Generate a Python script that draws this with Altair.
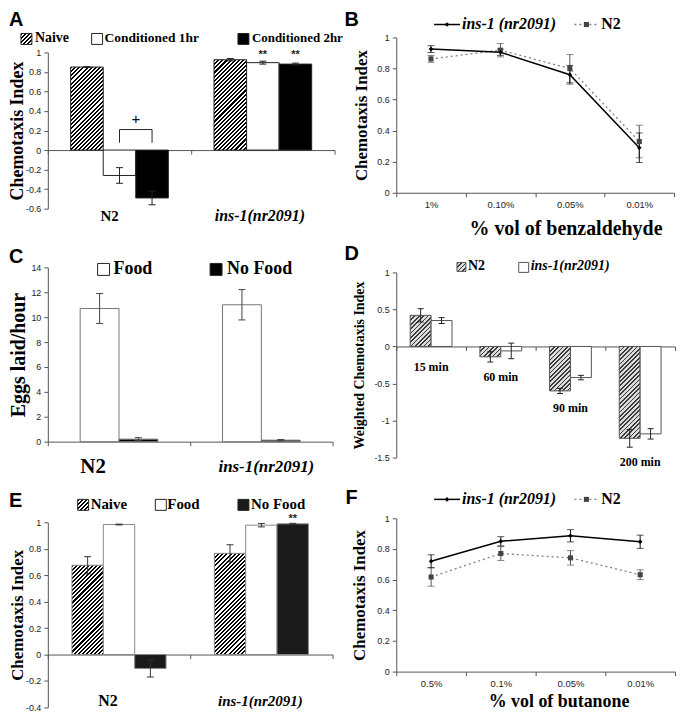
import math
import altair as alt
import pandas as pd

SERIF = "Liberation Serif"
SANS = "Liberation Sans"
AX = "#555555"
LBL = "#222222"

# ---------------- data ----------------
GROUPS = ["N2", "ins-1(nr2091)"]

A_SERIES = ["Naive", "Conditioned 1hr", "Conditioned 2hr"]
A_N2 = [0.85, -0.26, -0.49]
A_N2_ERR = [0.004, 0.08, 0.07]
A_INS = [0.925, 0.895, 0.88]
A_INS_ERR = [0.012, 0.015, 0.01]

B_CONC = ["1%", "0.10%", "0.05%", "0.01%"]
B_INS = [0.925, 0.905, 0.76, 0.29]
B_INS_ERR = [0.022, 0.02, 0.06, 0.095]
B_N2 = [0.862, 0.918, 0.80, 0.33]
B_N2_ERR = [0.022, 0.043, 0.09, 0.105]

C_SERIES = ["Food", "No Food"]
C_N2 = [10.7, 0.2]
C_N2_ERR = [1.2, 0.12]
C_INS = [11.0, 0.12]
C_INS_ERR = [1.22, 0.05]

D_TIMES = ["15 min", "60 min", "90 min", "200 min"]
D_SERIES = ["N2", "ins-1(nr2091)"]
D_N2 = [0.42, -0.14, -0.60, -1.24]
D_N2_ERR = [0.09, 0.07, 0.035, 0.12]
D_INS = [0.35, -0.06, -0.42, -1.18]
D_INS_ERR = [0.04, 0.105, 0.03, 0.07]

E_SERIES = ["Naive", "Food", "No Food"]
E_N2 = [0.675, 0.983, -0.105]
E_N2_ERR = [0.065, 0.003, 0.065]
E_INS = [0.765, 0.978, 0.988]
E_INS_ERR = [0.065, 0.013, 0.004]

F_CONC = ["0.5%", "0.1%", "0.05%", "0.01%"]
F_INS = [0.72, 0.85, 0.886, 0.847]
F_INS_ERR = [0.042, 0.03, 0.04, 0.043]
F_N2 = [0.617, 0.77, 0.742, 0.632]
F_N2_ERR = [0.06, 0.045, 0.047, 0.032]

ONE = pd.DataFrame({"k": [0]})


# ---------------- helpers ----------------
def hatch(w, h, period, c_line, c_bg, frac):
    """45-degree '/' stripes as a hard-stop linear gradient for a w x h box."""
    w = max(w, 1.0)
    h = max(h, 1.0)
    r = w / h
    b = (r + 1) / (r * r + 1)
    a = r * b
    L = (w + h) / math.sqrt(2)
    stops = []
    k = 0
    while k * period < L:
        s = k * period / L
        m = min((k + frac) * period / L, 1.0)
        e = min((k + 1) * period / L, 1.0)
        stops += [(s, c_line), (m, c_line), (m, c_bg), (e, c_bg)]
        k += 1
    return {"gradient": "linear", "x1": 0, "y1": 0, "x2": round(a, 5), "y2": round(b, 5),
            "stops": [{"offset": round(o, 5), "color": c} for o, c in stops]}


def y_axis(ticks, title, tsize, tx, H):
    return alt.Axis(values=ticks, title=title, titleFont=SERIF, titleFontWeight="bold",
                    titleFontSize=tsize, titleColor="black", titleAngle=270, titleAlign="center",
                    titleBaseline="middle", titleX=tx, titleY=H / 2, labelFont=SANS,
                    labelFontSize=9, labelColor=LBL, labelExpr="'' + round(datum.value * 10) / 10",
                    labelPadding=3, tickSize=4, tickColor=AX, domainColor=AX, grid=False)


def swatch(x, y, s, fill, stroke="#222222"):
    return alt.Chart(ONE).mark_rect(fill=fill, stroke=stroke, strokeWidth=1).encode(
        x=alt.value(x), x2=alt.value(x + s), y=alt.value(y), y2=alt.value(y + s))


def label(txt, x, y, size, italic=False, font=SERIF, weight="bold", baseline="middle", align="left"):
    return alt.Chart(ONE).mark_text(text=txt, font=font, fontSize=size, fontWeight=weight,
                                    fontStyle="italic" if italic else "normal", align=align,
                                    baseline=baseline, color="black").encode(
        x=alt.value(x), y=alt.value(y))


def letter(ch, x, y):
    return label(ch, x, y, 20, font=SANS, baseline="top")


def spacer(h):
    return alt.Chart(ONE).mark_point(opacity=0).encode(
        x=alt.value(0), y=alt.value(0)).properties(width=1, height=h)


def bar_panel(groups, series, vals, errs, W, H, dom, ticks, bar_px, fills, hatch_spec, stroke,
              err_color, cap_px, ytitle, ytsize, ytx, on_zero):
    n, m = len(groups), len(series)
    unit = W / n
    bw = bar_px / unit
    ch = cap_px / 2 / unit
    rows = []
    for gi, g in enumerate(groups):
        for sj, s in enumerate(series):
            v, e = vals[gi][sj], errs[gi][sj]
            x0 = gi + 0.5 - m * bw / 2 + sj * bw
            xc = x0 + bw / 2
            rows.append({"grp": g, "ser": s, "x0": x0, "x1": x0 + bw, "xc": xc,
                         "ca": xc - ch, "cb": xc + ch, "gx": gi + 0.5,
                         "val": v, "base": 0.0, "lo": v - e, "hi": v + e})
    df = pd.DataFrame(rows)
    off = -(0 - dom[0]) / (dom[1] - dom[0]) * H if on_zero else 0
    xaxis = alt.Axis(values=list(range(n + 1)), labels=False, title=None, tickSize=4,
                     tickColor=AX, domainColor=AX, grid=False, offset=off)
    yaxis = y_axis(ticks, ytitle, ytsize, ytx, H)
    xs = alt.Scale(domain=[0, n], nice=False, zero=False)
    ys = alt.Scale(domain=dom, nice=False)

    def X(f):
        return alt.X(f"{f}:Q", scale=xs, axis=xaxis)

    def Y(f):
        return alt.Y(f"{f}:Q", scale=ys, axis=yaxis)

    layers = []
    for s in series:
        d = df[df.ser == s]
        if s in fills:
            layers.append(alt.Chart(d).mark_bar(fill=fills[s], stroke=stroke, strokeWidth=1).encode(
                x=X("x0"), x2="x1:Q", y=Y("val"), y2="base:Q"))
        else:
            for i in range(len(d)):
                row = d.iloc[[i]]
                h = abs(float(row["val"].iloc[0])) / (dom[1] - dom[0]) * H
                layers.append(alt.Chart(row).mark_bar(
                    fill=hatch(bar_px, h, *hatch_spec), stroke=stroke, strokeWidth=1).encode(
                    x=X("x0"), x2="x1:Q", y=Y("val"), y2="base:Q"))
    layers.append(alt.Chart(df).mark_rule(color=err_color, strokeWidth=1).encode(
        x=X("xc"), y=Y("lo"), y2="hi:Q"))
    layers.append(alt.Chart(df).mark_rule(color=err_color, strokeWidth=1).encode(
        x=X("ca"), x2="cb:Q", y=Y("lo")))
    layers.append(alt.Chart(df).mark_rule(color=err_color, strokeWidth=1).encode(
        x=X("ca"), x2="cb:Q", y=Y("hi")))
    return layers, df, X, Y


def line_panel(cats, ins, ins_err, n2, n2_err, W, H, xtitle, xtx, xty, xts, lab_pad, ytx, leg_y,
               let, let_xy):
    rows = []
    for c, v, e in zip(cats, ins, ins_err):
        rows.append({"conc": c, "ser": "ins", "val": v, "lo": v - e, "hi": v + e})
    for c, v, e in zip(cats, n2, n2_err):
        rows.append({"conc": c, "ser": "n2", "val": v, "lo": v - e, "hi": v + e})
    df = pd.DataFrame(rows)
    dins = df[df.ser == "ins"]
    dn2 = df[df.ser == "n2"]
    xaxis = alt.Axis(title=xtitle, titleFont=SERIF, titleFontSize=xts, titleFontWeight="bold",
                     titleColor="black", titleX=xtx, titleY=xty, titleAlign="center",
                     titleBaseline="middle", labelFont=SANS, labelFontSize=9.5, labelColor=LBL,
                     labelAngle=0, labelPadding=lab_pad, tickBand="extent", tickSize=4,
                     tickColor=AX, domainColor=AX, grid=False)
    yaxis = y_axis([0, 0.2, 0.4, 0.6, 0.8, 1.0], "Chemotaxis Index", 17, ytx, H)
    xs = alt.Scale(type="band", domain=cats, paddingInner=0, paddingOuter=0)
    ys = alt.Scale(domain=[0, 1], nice=False)

    def X():
        return alt.X("conc:N", scale=xs, axis=xaxis)

    def Y(f):
        return alt.Y(f"{f}:Q", scale=ys, axis=yaxis)

    layers = [
        alt.Chart(dn2).mark_line(color="#808080", strokeWidth=1.3, strokeDash=[2, 3]).encode(
            x=X(), y=Y("val")),
        alt.Chart(dins).mark_line(color="black", strokeWidth=1.5).encode(x=X(), y=Y("val")),
        alt.Chart(dn2).mark_rule(color="#555555").encode(x=X(), y=Y("lo"), y2="hi:Q"),
        alt.Chart(dn2).mark_tick(color="#555555", thickness=1, size=7, orient="horizontal").encode(
            x=X(), y=Y("lo")),
        alt.Chart(dn2).mark_tick(color="#555555", thickness=1, size=7, orient="horizontal").encode(
            x=X(), y=Y("hi")),
        alt.Chart(dins).mark_rule(color="#111111").encode(x=X(), y=Y("lo"), y2="hi:Q"),
        alt.Chart(dins).mark_tick(color="#111111", thickness=1, size=7, orient="horizontal").encode(
            x=X(), y=Y("lo")),
        alt.Chart(dins).mark_tick(color="#111111", thickness=1, size=7, orient="horizontal").encode(
            x=X(), y=Y("hi")),
        alt.Chart(dn2).mark_point(shape="square", filled=True, size=26, color="#444444",
                                  opacity=1).encode(x=X(), y=Y("val")),
        alt.Chart(dins).mark_point(shape="diamond", filled=True, size=22, color="black",
                                   opacity=1).encode(x=X(), y=Y("val")),
        # legend
        alt.Chart(ONE).mark_rule(color="black", strokeWidth=1.5).encode(
            x=alt.value(38), x2=alt.value(64), y=alt.value(leg_y)),
        alt.Chart(ONE).mark_point(shape="diamond", filled=True, size=22, color="black",
                                  opacity=1).encode(x=alt.value(51), y=alt.value(leg_y)),
        label("ins-1 (nr2091)", 66, leg_y, 16, italic=True),
        alt.Chart(ONE).mark_rule(color="#808080", strokeWidth=1.3, strokeDash=[2, 3]).encode(
            x=alt.value(179), x2=alt.value(203), y=alt.value(leg_y)),
        alt.Chart(ONE).mark_point(shape="square", filled=True, size=26, color="#444444",
                                  opacity=1).encode(x=alt.value(191), y=alt.value(leg_y)),
        label("N2", 206, leg_y, 16),
        letter(let, *let_xy),
    ]
    return alt.layer(*layers).properties(width=W, height=H)


HATCH_BW = (2.9, "#000000", "#ffffff", 0.5)
HATCH_D = (3.1, "#3a3a3a", "#dcdcdc", 0.4)


def cat_labels(df, X, H_y, specs):
    out = []
    for g, size, italic, dx in specs:
        d = df[df.grp == g].iloc[[0]]
        out.append(alt.Chart(d).mark_text(
            font=SERIF, fontSize=size, fontWeight="bold", fontStyle="italic" if italic else "normal",
            dx=dx, color="black", baseline="middle").encode(x=X("gx"), y=alt.value(H_y),
                                                            text="grp:N"))
    return out


# ---------------- panel A ----------------
WA, HA = 288, 157
domA = [-0.6, 1.0]
layA, dfA, XA, YA = bar_panel(
    GROUPS, A_SERIES, [A_N2, A_INS], [A_N2_ERR, A_INS_ERR], WA, HA, domA,
    [round(-0.6 + 0.2 * i, 1) for i in range(9)], 32.7,
    {"Conditioned 1hr": "white", "Conditioned 2hr": "black"}, HATCH_BW, "#222222", "#222222", 7,
    "Chemotaxis Index", 18, -30, True)
p1 = dfA[(dfA.grp == "N2") & (dfA.ser == "Conditioned 1hr")].xc.iloc[0]
p2 = dfA[(dfA.grp == "N2") & (dfA.ser == "Conditioned 2hr")].xc.iloc[0]
bracket = pd.DataFrame({"bx": [p1, p1, p2, p2], "by": [0.075, 0.21, 0.21, 0.075], "o": [0, 1, 2, 3]})
plusA = pd.DataFrame({"px": [(p1 + p2) / 2], "py": [0.32]})
starsA = dfA[(dfA.grp == "ins-1(nr2091)") & (dfA.ser != "Naive")].assign(sy=1.0)
layA += [
    alt.Chart(bracket).mark_line(color="#222222", strokeWidth=1).encode(
        x=XA("bx"), y=YA("by"), order="o:Q"),
    alt.Chart(plusA).mark_text(text="+", font=SANS, fontSize=15, color="black").encode(
        x=XA("px"), y=YA("py")),
    alt.Chart(starsA).mark_text(text="**", font=SANS, fontSize=11, fontWeight="bold", dy=3,
                                color="#222222").encode(x=XA("xc"), y=YA("sy")),
]
layA += cat_labels(dfA, XA, HA + 7, [("N2", 15, False, -10), ("ins-1(nr2091)", 16, True, -3)])
layA += [
    swatch(-27, -19, 11, hatch(11, 11, *HATCH_BW)),
    label("Naive", -13, -14, 14),
    swatch(44, -19, 11, "white"),
    label("Conditioned 1hr", 57, -14, 13.5),
    swatch(191, -19, 11, "black"),
    label("Conditioned 2hr", 205, -14, 13),
    letter("A", -39, -43),
]
panelA = alt.layer(*layA).properties(width=WA, height=HA)

# ---------------- panel C ----------------
WC, HC = 286, 175
domC = [0, 14]
layC, dfC, XC, YC = bar_panel(
    GROUPS, C_SERIES, [C_N2, C_INS], [C_N2_ERR, C_INS_ERR], WC, HC, domC, list(range(0, 15, 2)),
    39, {"Food": "white", "No Food": "black"}, HATCH_BW, "#777777", "#444444", 7,
    "Eggs laid/hour", 20, -29, False)
layC += cat_labels(dfC, XC, HC + 26, [("N2", 21, False, -26), ("ins-1(nr2091)", 17, True, 5)])
layC += [
    swatch(50, -4, 12, "white"),
    label("Food", 66, 2, 18),
    swatch(163, -4, 12, "black"),
    label("No Food", 180, 2, 18),
    letter("C", -39, -20),
]
panelC = alt.layer(*layC).properties(width=WC, height=HC)

# ---------------- panel E ----------------
WE, HE = 286, 186
domE = [-0.4, 1.0]
layE, dfE, XE, YE = bar_panel(
    GROUPS, E_SERIES, [E_N2, E_INS], [E_N2_ERR, E_INS_ERR], WE, HE, domE,
    [round(-0.4 + 0.2 * i, 1) for i in range(8)], 31.5,
    {"Food": "white", "No Food": "#1a1a1a"}, HATCH_BW, "#888888", "#333333", 7,
    "Chemotaxis Index", 17, -30.5, True)
starsE = dfE[(dfE.grp == "ins-1(nr2091)") & (dfE.ser == "No Food")].assign(sy=1.05)
layE += [
    alt.Chart(starsE).mark_text(text="**", font=SANS, fontSize=11, fontWeight="bold", dy=3,
                                color="#222222").encode(x=XE("xc"), y=YE("sy")),
]
layE += cat_labels(dfE, XE, HE - 6, [("N2", 16, False, -11), ("ins-1(nr2091)", 15, True, -1)])
layE += [
    swatch(30, -23, 11, hatch(11, 11, *HATCH_BW)),
    label("Naive", 43, -18, 15),
    swatch(108, -23, 11, "white"),
    label("Food", 120, -18, 15),
    swatch(191, -23, 11, "#1a1a1a"),
    label("No Food", 204, -18, 15),
    letter("E", -39, -31),
]
panelE = alt.layer(*layE).properties(width=WE, height=HE)

# ---------------- panel D ----------------
WD, HD = 280, 186
domD = [-1.5, 1.0]
layD, dfD, XD, YD = bar_panel(
    D_TIMES, D_SERIES, [list(p) for p in zip(D_N2, D_INS)], [list(p) for p in zip(D_N2_ERR, D_INS_ERR)],
    WD, HD, domD, [-1.5, -1.0, -0.5, 0, 0.5, 1.0], 21, {"ins-1(nr2091)": "white"}, HATCH_D,
    "#555555", "#222222", 6, "Weighted Chemotaxis Index", 14, -36.5, True)
labD = dfD.groupby(["grp", "gx"], sort=False)["lo"].min().clip(upper=-0.08).reset_index()
layD += [
    alt.Chart(labD).mark_text(font=SERIF, fontSize=12, fontWeight="bold", dy=15,
                              color="black").encode(x=XD("gx"), y=YD("lo"), text="grp:N"),
    swatch(61, -10, 9, hatch(9, 9, *HATCH_D), stroke="#555555"),
    label("N2", 72, -6, 14),
    swatch(123, -10, 10, "white", stroke="#555555"),
    label("ins-1(nr2091)", 135, -6, 14, italic=True),
    letter("D", -52, -28),
]
panelD = alt.layer(*layD).properties(width=WD, height=HD)

# ---------------- panels B, F ----------------
panelB = line_panel(B_CONC, B_INS, B_INS_ERR, B_N2, B_N2_ERR, 279, 156, "% vol of benzaldehyde",
                    170, 36, 20, 3, -35, -13, "B", (-52, -28))
panelF = line_panel(F_CONC, F_INS, F_INS_ERR, F_N2, F_N2_ERR, 280, 154, "% vol of butanone",
                    163, 30, 18, 3, -36.5, -19, "F", (-51, -30))

left = alt.vconcat(spacer(15), panelA, spacer(59), panelC, spacer(81), panelE,
                   spacing=0, bounds="flush")
right = alt.vconcat(panelB, spacer(80), panelD, spacer(61), panelF, spacing=0, bounds="flush")

chart = alt.hconcat(left, right, spacing=1).properties(padding=0).configure_view(strokeWidth=0)

chart.save("out.html", embed_options={"renderer": "svg", "actions": False})
